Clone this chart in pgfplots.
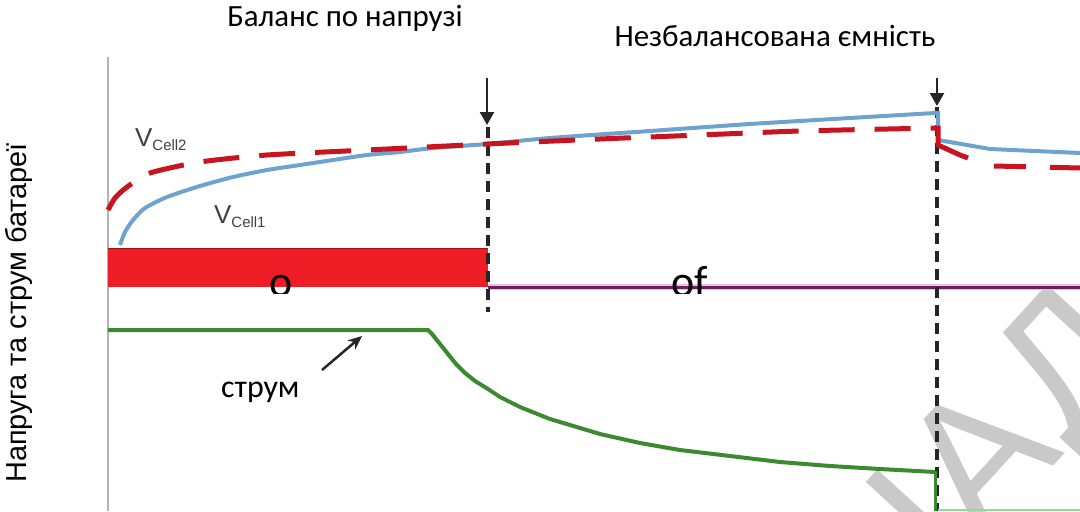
\documentclass[border=0pt]{standalone}
\usepackage{pgfplots}
\pgfplotsset{compat=1.18}
\usepackage{fontspec}
\setmainfont{Carlito}
\newfontfamily\arial{Liberation Sans}
\usetikzlibrary{arrows.meta}
\definecolor{cblue}{HTML}{6FA3CF}
\definecolor{cred}{HTML}{C8141E}
\definecolor{cgreen}{HTML}{3C8A30}
\definecolor{cpurple}{HTML}{6A1F5E}
\definecolor{cpink}{HTML}{EBC0DF}
\definecolor{cfill}{HTML}{EE1C25}
\begin{document}
\begin{tikzpicture}
\begin{axis}[
  scale only axis, width=1080bp, height=511bp,
  xmin=0, xmax=1080, ymin=0, ymax=511, y dir=reverse,
  hide axis, clip=true,
]
% watermark
\node[rotate=47.5, text=black!21, font=\arial\fontsize{185}{185}\selectfont, anchor=base west, inner sep=0pt] at (axis cs:982,544) {АД};
\node[rotate=47.5, text=black!21, font=\arial\fontsize{185}{185}\selectfont, anchor=base east, inner sep=0pt] at (axis cs:982,544) {Н};
% left light line
\addplot[black!30, line width=1.5bp] coordinates {(108,57) (108,511)};
% red bar
\addplot[fill=cfill, draw=none] coordinates {(108,248) (488,248) (488,287) (108,287)} -- cycle;
\addplot[cred!80!black, line width=1bp] coordinates {(108,248.5) (488,248.5)};
% purple line
\addplot[cpink, line width=6bp] coordinates {(488,287) (1080,287)};
\addplot[cpurple, line width=3bp] coordinates {(488,287) (1080,287)};
% dashed verticals
\addplot[black!85, line width=3.5bp, dash pattern=on 11bp off 7bp] coordinates {(488,127) (488,312)};
\addplot[black!85, line width=3.5bp, dash pattern=on 11bp off 7bp] coordinates {(937,107) (937,511)};
% top arrows
\addplot[black!85, line width=2.4bp, -{Triangle[width=14bp,length=13bp]}] coordinates {(487,78) (487,125)};
\addplot[black!85, line width=2.4bp, -{Triangle[width=14bp,length=13bp]}] coordinates {(937,78) (937,106)};
% V cell1 (blue)
\addplot[cblue, line width=4bp, smooth, tension=0.4] coordinates {
 (120,245) (125,232) (133,220) (145,208) (167,197) (200,186) (233,177) (267,170)
 (300,165) (333,160) (367,155) (400,152) (433,148) (487,144) (550,138) (650,131)
 (750,124) (850,118) (935,113)};
\addplot[cblue, line width=4bp] coordinates {(935,113) (938,113) (938,140) (990,149) (1080,153)};
% V cell2 (red dashed)
\addplot[cred, line width=5bp, dash pattern=on 36bp off 20bp, smooth, tension=0.4] coordinates {
 (108,210) (115,198) (127,187) (150,173) (200,162) (267,155) (367,150) (487,144)
 (600,139) (700,135) (800,131) (936,128)};
\addplot[cred, line width=5bp] coordinates {(936,128) (938,128) (938,145) (960,155) (968,158)};
\addplot[cred, line width=5bp, dash pattern=on 32bp off 24bp] coordinates {(994,166) (1080,168)};
% current (green)
\addplot[cgreen, line width=4bp] coordinates {
 (108,330) (428,330) (432,334) (440,344) (448,354) (456,364) (465,373) (475,381)
 (488,389) (500,397) (520,407) (550,419) (580,428) (600,434) (640,443) (680,450)
 (730,456) (780,462) (830,466) (880,469) (935,472)};
\addplot[cgreen, line width=3bp] coordinates {(935,471) (935,511)};
\addplot[green!60!black!40, line width=2bp] coordinates {(938,510) (1080,510)};
% arrow to current
\addplot[black!85, line width=2.5bp, -{Stealth[width=12bp,length=14bp]}] coordinates {(322,370) (362,336)};
% labels
\node[text=black!75, font=\arial\fontsize{26}{26}\selectfont, anchor=base west, inner sep=0pt] at (axis cs:135,146) {V\raisebox{-4bp}{\fontsize{15}{15}\selectfont Cell2}};
\node[text=black!75, font=\arial\fontsize{26}{26}\selectfont, anchor=base west, inner sep=0pt] at (axis cs:214,223) {V\raisebox{-4bp}{\fontsize{15}{15}\selectfont Cell1}};
\node[font=\fontsize{32}{32}\selectfont, anchor=base west, inner sep=0pt] at (axis cs:221,397) {струм};
\node[font=\fontsize{44}{44}\selectfont, anchor=base, inner sep=0pt] at (axis cs:281,296) {о};
\node[font=\fontsize{44}{44}\selectfont, anchor=base, inner sep=0pt] at (axis cs:690,296) {of};
\fill[white] (axis cs:255,293.5) rectangle (axis cs:310,305);
\fill[white] (axis cs:660,293.5) rectangle (axis cs:720,305);
\node[font=\fontsize{31}{31}\selectfont, inner sep=0pt] at (axis cs:345,18) {Баланс по напрузі};
\node[font=\fontsize{31}{31}\selectfont, inner sep=0pt] at (axis cs:775,36) {Незбалансована ємність};
\node[font=\arial\fontsize{29}{29}\selectfont, rotate=90, inner sep=0pt] at (axis cs:19,313) {Напруга та струм батареї};
\end{axis}
\pgfresetboundingbox
\path[use as bounding box] (current axis.south west) rectangle (current axis.north east);
\end{tikzpicture}
\end{document}
